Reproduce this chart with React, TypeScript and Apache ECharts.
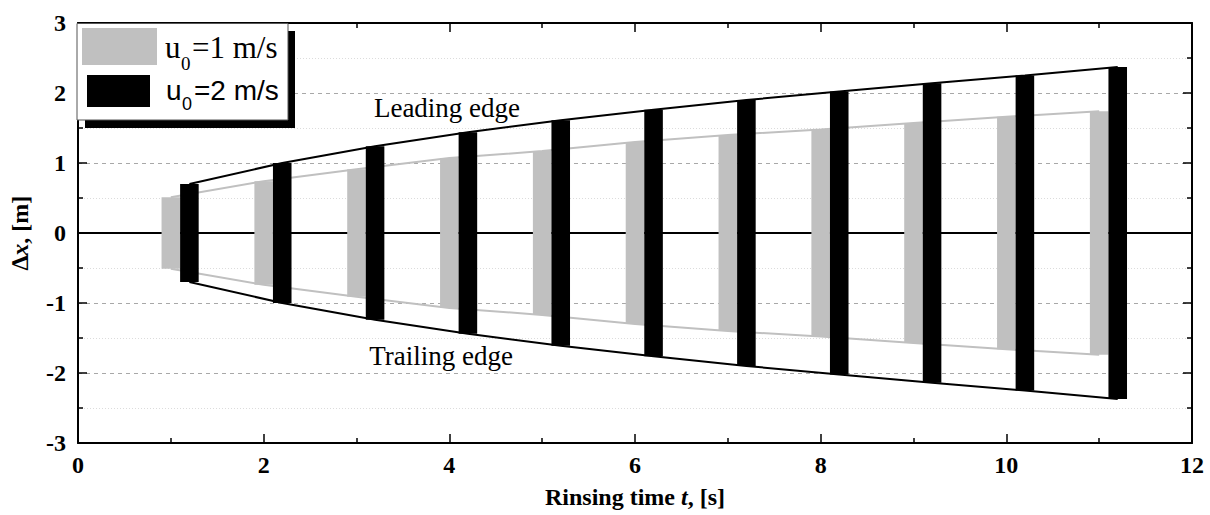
import React, { useEffect, useRef } from "react";
import * as echarts from "echarts";

// ---- data ----
const greyTimes = [1, 2, 3, 4, 5, 6, 7, 8, 9, 10, 11];
const greyHalf = [0.51, 0.74, 0.91, 1.07, 1.17, 1.3, 1.4, 1.48, 1.57, 1.66, 1.74];
const blackTimes = [1.2, 2.2, 3.2, 4.2, 5.2, 6.2, 7.2, 8.2, 9.2, 10.2, 11.2];
const blackHalf = [0.7, 1.0, 1.24, 1.44, 1.61, 1.76, 1.9, 2.02, 2.14, 2.25, 2.37];
const xTicks = { min: 0, max: 12, interval: 2 };
const yTicks = { min: -3, max: 3, interval: 1 };
const seriesNames = ["u0=1 m/s", "u0=2 m/s"];
const annotations = ["Leading edge", "Trailing edge"];

const BAR_SPAN = 0.2;
const GREY = "#c0c0c0";
const SERIF = "Liberation Serif";
const SANS = "Liberation Sans";

function barSeries(name: string, times: number[], half: number[], color: string) {
  return {
    type: "custom",
    name,
    z: 5,
    silent: true,
    encode: { x: 0, y: 1 },
    data: times.map((t, i) => [t, half[i]]),
    renderItem: (params: any, api: any) => {
      const t = api.value(0);
      const h = api.value(1);
      const p1 = api.coord([t - BAR_SPAN / 2, h]);
      const p2 = api.coord([t + BAR_SPAN / 2, -h]);
      return {
        type: "rect",
        shape: { x: p1[0], y: p1[1], width: p2[0] - p1[0], height: p2[1] - p1[1] },
        style: { fill: color },
      };
    },
  };
}

function envelope(times: number[], half: number[], sign: number, color: string) {
  return {
    type: "line",
    z: 2,
    silent: true,
    symbol: "none",
    data: times.map((t, i) => [t, sign * half[i]]),
    lineStyle: { color, width: 2 },
  };
}

function txt(text: string, x: number, y: number, size: number, family: string, align = "left") {
  return {
    type: "text",
    z: 22,
    x,
    y,
    style: {
      text,
      fontSize: size,
      fontFamily: family,
      fontWeight: "normal",
      fill: "#000",
      align,
      verticalAlign: "middle",
    },
  };
}

export default function App() {
  const ref = useRef<HTMLDivElement>(null);
  useEffect(() => {
    const chart = echarts.init(ref.current!, null, { renderer: "svg" });
    const tickLabel = { fontFamily: SERIF, fontWeight: "bold", fontSize: 24, color: "#000" };
    const nameRich = {
      n: { fontFamily: SERIF, fontWeight: "bold", fontSize: 24, color: "#000" },
      i: { fontFamily: SERIF, fontWeight: "bold", fontStyle: "italic", fontSize: 24, color: "#000" },
    };
    const xBase = {
      type: "value",
      min: xTicks.min,
      max: xTicks.max,
      interval: xTicks.interval,
      axisLine: { show: true, onZero: false, lineStyle: { color: "#000", width: 2 } },
      axisTick: { show: true, inside: true, length: 9, lineStyle: { color: "#000", width: 1.5 } },
      minorTick: { show: true, splitNumber: 2, length: 5, lineStyle: { color: "#000", width: 1.5 } },
      splitLine: { show: false },
    };
    const yBase = {
      type: "value",
      min: yTicks.min,
      max: yTicks.max,
      interval: yTicks.interval,
      axisLine: { show: true, onZero: false, lineStyle: { color: "#000", width: 2 } },
      axisTick: { show: true, inside: true, length: 9, lineStyle: { color: "#000", width: 1.5 } },
      minorTick: { show: true, splitNumber: 2, length: 5, lineStyle: { color: "#000", width: 1.5 } },
    };
    chart.setOption({
      animation: false,
      backgroundColor: "#fff",
      textStyle: { fontFamily: SERIF },
      grid: { left: 77, right: 18, top: 23, bottom: 72 },
      xAxis: [
        {
          ...xBase,
          position: "bottom",
          axisLabel: { ...tickLabel, margin: 10 },
          name: "{n|Rinsing time }{i|t}{n|, [s]}",
          nameLocation: "middle",
          nameGap: 42,
          nameTextStyle: { ...nameRich.n, rich: nameRich },
        },
        { ...xBase, position: "top", axisLabel: { show: false } },
      ],
      yAxis: [
        {
          ...yBase,
          position: "left",
          axisLabel: { ...tickLabel, margin: 12 },
          splitLine: { show: true, lineStyle: { color: "#a8a8a8", type: [4, 4], width: 1 } },
          minorSplitLine: { show: true, lineStyle: { color: "#dcdcdc", type: [1, 2], width: 1 } },
          name: "{i|∆x}{n|, [m]}",
          nameLocation: "middle",
          nameGap: 46,
          nameTextStyle: { ...nameRich.n, rich: nameRich },
        },
        { ...yBase, position: "right", axisLabel: { show: false }, splitLine: { show: false } },
      ],
      series: [
        {
          type: "line",
          data: [],
          silent: true,
          markLine: {
            silent: true,
            symbol: "none",
            label: { show: false },
            lineStyle: { color: "#000", width: 2, type: "solid" },
            data: [{ yAxis: 0 }],
          },
        },
        envelope(greyTimes, greyHalf, 1, GREY),
        envelope(greyTimes, greyHalf, -1, GREY),
        envelope(blackTimes, blackHalf, 1, "#000"),
        envelope(blackTimes, blackHalf, -1, "#000"),
        barSeries(seriesNames[0], greyTimes, greyHalf, GREY),
        barSeries(seriesNames[1], blackTimes, blackHalf, "#000"),
      ],
      graphic: [
        txt(annotations[0], 447, 108, 27, SERIF, "center"),
        txt(annotations[1], 441, 356, 27, SERIF, "center"),
        // legend
        { type: "rect", z: 20, shape: { x: 85, y: 31, width: 210, height: 97 }, style: { fill: "#000" } },
        {
          type: "rect",
          z: 21,
          shape: { x: 77, y: 23.5, width: 211, height: 96.5 },
          style: { fill: "#fff", stroke: "#555", lineWidth: 1 },
        },
        { type: "rect", z: 22, shape: { x: 82, y: 28, width: 75, height: 37 }, style: { fill: GREY } },
        { type: "rect", z: 22, shape: { x: 87, y: 75, width: 63, height: 32 }, style: { fill: "#000" } },
        txt("u", 165, 47, 31, SERIF),
        txt("0", 181, 63, 19, SERIF),
        txt("=1 m/s", 192, 47, 31, SERIF),
        txt("u", 166, 90, 28, SANS),
        txt("0", 182, 104, 18, SANS),
        txt("=2 m/s", 194, 90, 28, SANS),
      ],
    });
    return () => chart.dispose();
  }, []);
  return (
    <div
      ref={ref}
      style={{ position: "fixed", left: 0, top: 0, width: 1210, height: 515, background: "#fff" }}
    />
  );
}
